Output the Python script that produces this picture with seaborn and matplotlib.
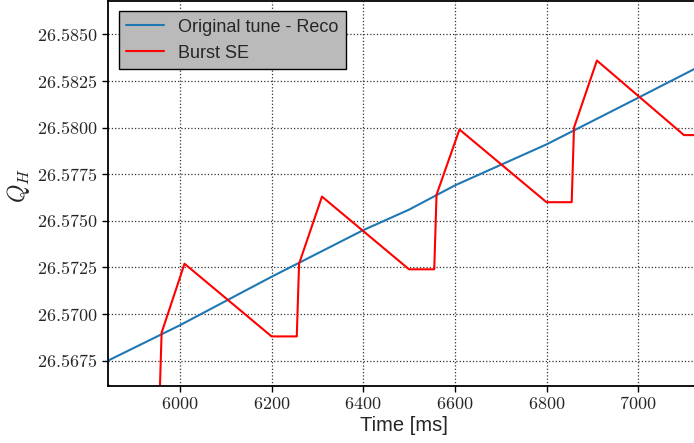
import matplotlib
matplotlib.use("Agg")
import matplotlib.pyplot as plt
from matplotlib.ticker import FuncFormatter, MultipleLocator
import pandas as pd
import seaborn as sns

# Reconstructed tune (smooth drift)
reco_time = [5843, 6000, 6200, 6400, 6500, 6600, 6800, 7000, 7135]
reco_qh = [26.5675, 26.5694, 26.5720, 26.5745, 26.5756, 26.5769, 26.5791, 26.5816, 26.5833]

# Burst-by-burst SE estimate (saw-tooth)
burst_time = [5843, 5900, 5955, 5960, 6010, 6200, 6255, 6260, 6310, 6500, 6555,
              6560, 6610, 6800, 6855, 6860, 6910, 7100, 7135]
burst_qh = [26.5662, 26.5650, 26.5650, 26.5690, 26.5727, 26.5688, 26.5688, 26.5727,
            26.5763, 26.5724, 26.5724, 26.5764, 26.5799, 26.5760, 26.5760, 26.5800,
            26.5836, 26.5796, 26.5796]

series_labels = ["Original tune - Reco", "Burst SE"]

sns.set_style("white")
plt.rcParams["mathtext.fontset"] = "cm"
plt.rcParams["font.family"] = ["Liberation Sans", "DejaVu Sans"]

reco = pd.DataFrame({"time": reco_time, "qh": reco_qh})
burst = pd.DataFrame({"time": burst_time, "qh": burst_qh})

fig = plt.figure(figsize=(6.94, 4.43), dpi=100)
ax = fig.add_axes([108 / 694, 57 / 443, 592 / 694, 385.5 / 443])

sns.lineplot(data=reco, x="time", y="qh", ax=ax, color="#1f77b4", linewidth=1.5,
             label=series_labels[0], sort=False)
sns.lineplot(data=burst, x="time", y="qh", ax=ax, color="red", linewidth=1.5,
             label=series_labels[1], sort=False)

ax.set_xlim(5843, 7135)
ax.set_ylim(26.56614, 26.58682)
ax.xaxis.set_major_locator(MultipleLocator(200))
ax.yaxis.set_major_locator(MultipleLocator(0.0025))
ax.xaxis.set_major_formatter(FuncFormatter(lambda v, p: f"${v:.0f}$"))
ax.yaxis.set_major_formatter(FuncFormatter(lambda v, p: f"${v:.4f}$"))
ax.tick_params(axis="both", which="major", labelsize=13, direction="out",
               length=4, width=1, color="black", left=True, bottom=True)

ax.grid(True, linestyle=":", color="#333333", linewidth=0.9)
for side in ["left", "bottom", "top", "right"]:
    ax.spines[side].set_color("black")
    ax.spines[side].set_linewidth(1.3)

ax.set_xlabel("Time [ms]", fontsize=14.5, labelpad=2)
ax.set_ylabel(r"$Q_H$", fontsize=17)
ax.yaxis.set_label_coords(-0.128, 0.52)

leg = ax.legend(loc="upper left", fontsize=13, frameon=True, fancybox=False,
                facecolor="#bababa", edgecolor="black", framealpha=1.0,
                borderaxespad=0.6, handlelength=2.1)
leg.get_frame().set_linewidth(1.0)

fig.savefig("out.png", dpi=100)
